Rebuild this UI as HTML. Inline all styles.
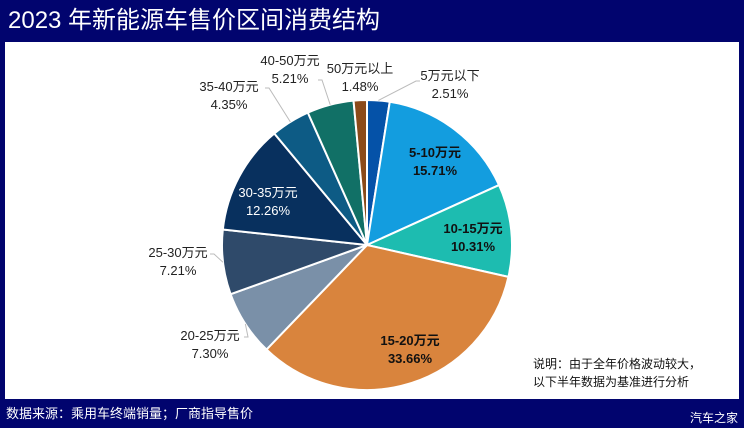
<!DOCTYPE html>
<html><head><meta charset="utf-8"><style>
body{margin:0;width:744px;height:428px;background:#01046e;overflow:hidden;font-family:"Liberation Sans","Noto Sans CJK SC",sans-serif;position:relative}
#title{position:absolute;left:8px;top:4px;color:#fff;font-size:24px;line-height:34px}
#panel{position:absolute;left:5px;top:42px;width:734px;height:357px;background:#fff}
#src{position:absolute;left:6px;top:403px;color:#fff;font-size:13px}
#brand{position:absolute;right:6px;top:409px;color:#fff;font-size:12px}
#note{position:absolute;left:533px;top:355px;font-size:12px;line-height:18px;color:#111}
svg{position:absolute;left:0;top:0}
</style></head><body>
<div id="title">2023 年新能源车售价区间消费结构</div>
<div id="panel"></div>
<svg id="chart" width="744" height="428"></svg>
<div id="note">说明：由于全年价格波动较大，<br>以下半年数据为基准进行分析</div>
<div id="src">数据来源：乘用车终端销量；厂商指导售价</div>
<div id="brand">汽车之家</div>
<script>
const categories=["5万元以下","5-10万元","10-15万元","15-20万元","20-25万元","25-30万元","30-35万元","35-40万元","40-50万元","50万元以上"];
const values=[2.51,15.71,10.31,33.66,7.30,7.21,12.26,4.35,5.21,1.48];
const colors=["#0552a8","#139ddf","#1dbcb0","#d9843d","#7a90a8","#2f4a6a","#08305e","#0d5b85","#117066","#8b4a1a"];
const inside=[false,true,true,true,false,false,true,false,false,false];
// label layout (center x, first-line center y) and leader end offsets
const labelX=[450,435,473,410,210,178,268,229,290,360];
const labelY=[75,152,228,340,335,252,192,86,60,68];
const leadDX=[-30,0,0,0,34,32,0,36,28,0];
const leadDY=[6,0,0,0,2,2,0,2,20,0];
const NS="http://www.w3.org/2000/svg";
const svg=document.getElementById('chart');
const cx=367,cy=245,r=145;
const total=values.reduce((a,b)=>a+b,0);
function pt(a,rr){return [cx+rr*Math.sin(a),cy-rr*Math.cos(a)];}
function mk(t,attrs){const e=document.createElementNS(NS,t);for(const k in attrs)e.setAttribute(k,attrs[k]);svg.appendChild(e);return e;}
let acc=0;
values.forEach((v,i)=>{
  const a0=acc/total*2*Math.PI;acc+=v;const a1=acc/total*2*Math.PI;
  const p0=pt(a0,r),p1=pt(a1,r);const large=(a1-a0)>Math.PI?1:0;
  const p=mk('path',{d:`M${cx},${cy}L${p0[0]},${p0[1]}A${r},${r} 0 ${large} 1 ${p1[0]},${p1[1]}Z`,fill:colors[i],stroke:'#fff','stroke-width':2});
  
  
  const am=(a0+a1)/2;
  const lx=labelX[i],ly=labelY[i];
  let fill='#222',bold=false;
  if(inside[i]){bold=(i!==6);fill=i===6?'#fff':'#111';}
  else if(i!==9){
    const e=pt(am,r);
    const ex=lx+leadDX[i], ey=ly+leadDY[i];
    const hx=ex+(leadDX[i]<0?-4:4);
    const l=mk('polyline',{points:`${e[0]},${e[1]} ${hx},${ey} ${ex},${ey}`,fill:'none',stroke:'#bbb','stroke-width':1});
    
    
  }
  const t=mk('text',{x:lx,y:ly+5,'text-anchor':'middle','font-size':13,fill:fill,'font-weight':bold?'bold':'normal'});
  
  
  const s1=document.createElementNS(NS,'tspan');s1.setAttribute('x',lx);s1.textContent=categories[i];t.appendChild(s1);
  const s2=document.createElementNS(NS,'tspan');s2.setAttribute('x',lx);s2.setAttribute('dy',18);s2.textContent=values[i].toFixed(2)+'%';t.appendChild(s2);
});
</script>
</body></html>
